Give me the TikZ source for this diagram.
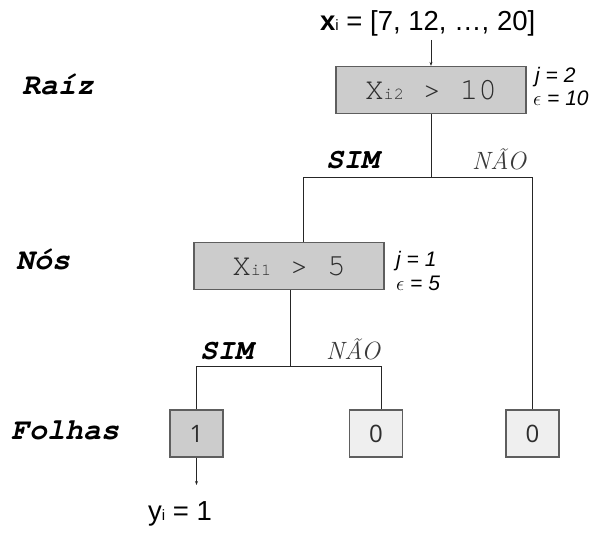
\documentclass[tikz,border=0pt]{standalone}
\usepackage{fontspec}
\newfontfamily\monofont{texgyrecursor}[Extension=.otf,
  UprightFont=*-regular, BoldFont=*-bold,
  ItalicFont=*-italic, BoldItalicFont=*-bolditalic]
\newfontfamily\arialfont{Liberation Sans}
\newfontfamily\leaffont{Open Sans}
\usetikzlibrary{arrows.meta}

\definecolor{boxfill}{HTML}{CCCCCC}
\definecolor{leaflight}{HTML}{EFEFEF}
\definecolor{edgegray}{HTML}{5E5E5E}
\definecolor{textgray}{HTML}{2E2E2E}
\definecolor{nogray}{HTML}{3A3A3A}

\tikzset{
  decision/.style={draw=edgegray, line width=1.2pt, fill=boxfill,
    minimum width=190pt, minimum height=47pt, inner sep=0pt, text=textgray,
    font=\monofont\fontsize{31}{33}\selectfont},
  leafbox/.style={draw=edgegray, line width=1.2pt,
    minimum width=53pt, minimum height=47pt, inner sep=0pt, text=textgray,
    font=\leaffont\fontsize{24}{26}\selectfont},
  level/.style={font=\monofont\bfseries\itshape\fontsize{30}{32}\selectfont,
    anchor=base west, inner sep=0pt},
  yes/.style={font=\monofont\bfseries\itshape\fontsize{29}{31}\selectfont,
    anchor=base west, inner sep=0pt},
  no/.style={font=\itshape\fontsize{25}{27}\selectfont, text=nogray,
    anchor=base west, inner sep=0pt},
  param/.style={font=\arialfont\itshape\fontsize{21}{23}\selectfont,
    anchor=base west, inner sep=0pt},
  plain/.style={font=\arialfont\fontsize{27.5}{30}\selectfont,
    anchor=base west, inner sep=0pt},
  link/.style={draw=black!85, line width=0.8pt},
  arr/.style={link, -{Stealth[length=4pt,width=3pt]}}
}

\newcommand{\smallsub}[1]{{\fontsize{17}{19}\selectfont #1}}
\newcommand{\txtsub}[1]{{\fontsize{15}{17}\selectfont #1}}

\begin{document}
\begin{tikzpicture}[x=1pt,y=-1pt]
  \useasboundingbox (0,0) rectangle (603,534);

  % input vector
  \node[plain] (input) at (320,31) {{\bfseries x}\txtsub{i} = [7, 12, …, 20]};
  \coordinate (instart) at (431,40);

  % split nodes
  \node[decision] (root) at (431,90) {X\smallsub{i2} > 10};
  \node[decision] (nos) at (289,266) {X\smallsub{i1} > 5};

  % leaves
  \node[leafbox, fill=boxfill] (leafa) at (196.5,433.5) {1};
  \node[leafbox, fill=leaflight] (leafb) at (376,433.5) {0};
  \node[leafbox, fill=leaflight] (leafc) at (532.5,433.5) {0};

  % output
  \node[plain] (out) at (148,521) {y\txtsub{i} = 1};
  \coordinate (outend) at (196.5,485);

  % level names
  \node[level] (lraiz) at (22,95) {Raíz};
  \node[level] (lnos) at (16,270) {Nós};
  \node[level] (lfolhas) at (11,440) {Folhas};

  % split parameters
  \node[param] (j2) at (535,83) {j = 2};
  \node[param] (e10) at (533,106) {$\epsilon$ = 10};
  \node[param] (j1) at (396,267) {j = 1};
  \node[param] (e5) at (396,291) {$\epsilon$ = 5};

  % branch labels
  \node[yes] (sima) at (326,169) {SIM};
  \node[no] (naoa) at (472,170) {NÃO};
  \node[yes] (simb) at (200,360) {SIM};
  \node[no] (naob) at (326,360) {NÃO};

  % branch points
  \coordinate (sa) at (431,177);
  \coordinate (sb) at (290,366);

  % connectors
  \draw[arr] (instart) -- (root.north);
  \draw[link] (root.south) -- (sa) -| ([xshift=14pt]nos.north);
  \draw[link] (sa) -| (leafc.north);
  \draw[link] (nos.south -| sb) -- (sb) -| (leafa.north);
  \draw[link] (sb) -| ([xshift=5.5pt]leafb.north);
  \draw[arr] (leafa.south) -- (outend);
\end{tikzpicture}
\end{document}
